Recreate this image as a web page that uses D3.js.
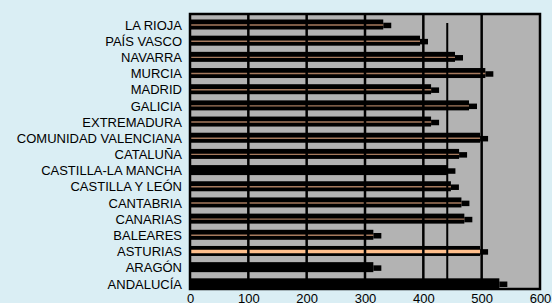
<!DOCTYPE html>
<html>
<head>
<meta charset="utf-8">
<script src="https://cdn.jsdelivr.net/npm/d3@7"></script>
<style>
  body { margin: 0; background: #daeef4; }
  svg { display: block; font-family: "Liberation Sans", Arial, sans-serif; }
</style>
</head>
<body>
<script>
// regions, top to bottom
var categories = ["LA RIOJA", "PAÍS VASCO", "NAVARRA", "MURCIA", "MADRID", "GALICIA",
  "EXTREMADURA", "COMUNIDAD VALENCIANA", "CATALUÑA", "CASTILLA-LA MANCHA",
  "CASTILLA Y LEÓN", "CANTABRIA", "CANARIAS", "BALEARES", "ASTURIAS", "ARAGÓN", "ANDALUCÍA"];
var values = [345, 408, 468, 520, 427, 492, 427, 511, 475, 455, 461, 479, 484, 328, 511, 328, 544];
var average = [441];
var xTicks = [0, 100, 200, 300, 400, 500, 600];

var highlight = "ASTURIAS";
var hiddenLine = ["CASTILLA-LA MANCHA", "ARAGÓN", "ANDALUCÍA"];

var width = 552;
var height = 303;
var plotLeft = 190, plotRight = 540, plotTop = 14, plotBottom = 289;

var svg = d3.select("body").append("svg")
    .attr("width", width)
    .attr("height", height);

var x = d3.scaleLinear().domain([0, 600]).range([plotLeft, plotRight]);
var y = d3.scaleBand().domain(categories).range([plotTop, plotBottom]);

// plot area
svg.append("rect")
    .attr("x", plotLeft).attr("y", plotTop)
    .attr("width", plotRight - plotLeft).attr("height", plotBottom - plotTop)
    .attr("fill", "#b3b3b3");

var rows = svg.selectAll("g.row")
    .data(categories)
  .enter().append("g")
    .attr("class", "row");

// black body
rows.append("rect")
    .attr("x", plotLeft)
    .attr("y", function(d) { return y(d) + 5.5; })
    .attr("width", function(d, i) { return x(values[i]) - 8 - plotLeft; })
    .attr("height", 10)
    .attr("fill", "#000");

// end cap
rows.append("rect")
    .attr("x", function(d, i) { return x(values[i]) - 8; })
    .attr("y", function(d) { return y(d) + 8.7; })
    .attr("width", 8)
    .attr("height", 5.5)
    .attr("fill", "#000");

// thin coloured face line
rows.filter(function(d) { return hiddenLine.indexOf(d) < 0; })
  .append("line")
    .attr("x1", plotLeft + 1)
    .attr("x2", function(d) { return x(values[categories.indexOf(d)]) - 8; })
    .attr("y1", function(d) { return y(d) + 11; })
    .attr("y2", function(d) { return y(d) + 11; })
    .attr("stroke", function(d) { return d === highlight ? "#ffbf8c" : "#a67a5e"; })
    .attr("stroke-width", function(d) { return d === highlight ? 3.5 : 1.4; });

// gridlines
svg.selectAll("line.grid")
    .data(xTicks.slice(1, -1))
  .enter().append("line")
    .attr("class", "grid")
    .attr("x1", function(d) { return x(d); })
    .attr("x2", function(d) { return x(d); })
    .attr("y1", plotTop)
    .attr("y2", plotBottom)
    .attr("stroke", "#000")
    .attr("stroke-width", 2.5);

// average line
svg.selectAll("line.avg")
    .data(average)
  .enter().append("line")
    .attr("class", "avg")
    .attr("x1", function(d) { return x(d); })
    .attr("x2", function(d) { return x(d); })
    .attr("y1", 23)
    .attr("y2", plotBottom)
    .attr("stroke", "#000")
    .attr("stroke-width", 2);

// border
svg.append("rect")
    .attr("x", plotLeft).attr("y", plotTop)
    .attr("width", plotRight - plotLeft).attr("height", plotBottom - plotTop)
    .attr("fill", "none")
    .attr("stroke", "#000")
    .attr("stroke-width", 2.5);

// category labels
svg.selectAll("text.cat")
    .data(categories)
  .enter().append("text")
    .attr("class", "cat")
    .attr("x", 182)
    .attr("y", function(d) { return y(d) + 11; })
    .attr("dy", "0.36em")
    .attr("text-anchor", "end")
    .attr("font-size", 13)
    .attr("fill", "#000")
    .text(function(d) { return d; });

// x axis labels
var xAxis = d3.axisBottom(x).tickValues(xTicks).tickSize(0).tickPadding(0);
var gx = svg.append("g")
    .attr("transform", "translate(0," + 294 + ")")
    .call(xAxis);
gx.select(".domain").remove();
gx.selectAll("text")
    .attr("font-size", 13)
    .attr("font-family", "Liberation Sans, Arial, sans-serif")
    .attr("fill", "#000")
    .attr("dy", "0.72em");
</script>
</body>
</html>
